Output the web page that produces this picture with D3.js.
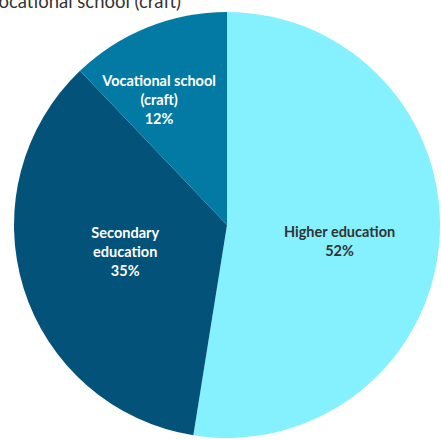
<!DOCTYPE html>
<html>
<head>
<meta charset="utf-8">
<script src="https://cdn.jsdelivr.net/npm/d3@7/dist/d3.min.js"></script>
<style>
  html, body { margin: 0; padding: 0; background: #fff; }
  svg { display: block; }
</style>
</head>
<body>
<svg id="chart" width="441" height="440"></svg>
<script>
// Education level shares
const categories = ["Higher education", "Secondary education", "Vocational school (craft)"];
const labelLines = [["Higher education"], ["Secondary", "education"], ["Vocational school", "(craft)"]];
const values = [52, 35, 12];
const colors = ["#86F1FE", "#03527A", "#027AA4"];
const textColors = ["#333333", "#ffffff", "#ffffff"];
const heading = "Vocational school (craft)";

const width = 441, height = 440;
const cx = 227, cy = 225, radius = 213;

const svg = d3.select("#chart");

// Heading, partly outside the top edge
svg.append("text")
  .attr("x", 181).attr("y", 8)
  .attr("text-anchor", "end")
  .attr("font-family", "Lato, 'Open Sans', sans-serif")
  .attr("font-size", 18.5)
  .attr("fill", "#333")
  .text(heading);

const data = categories.map((c, i) => ({ name: c, value: values[i], i }));

const pie = d3.pie().value(d => d.value).sort(null);
const arcs = pie(data);

const arc = d3.arc().innerRadius(0).outerRadius(radius);
const labelArc = d3.arc().innerRadius(radius * 0.53).outerRadius(radius * 0.53);

const g = svg.append("g").attr("transform", `translate(${cx},${cy})`);

g.selectAll("path.slice")
  .data(arcs)
  .join("path")
  .attr("class", "slice")
  .attr("d", arc)
  .attr("fill", d => colors[d.data.i]);

// Label nudges so text sits inside the wedge
const nudge = { 0: [0, 8], 1: [6, -7], 2: [-26, -20] };

const labels = g.selectAll("text.lbl")
  .data(arcs)
  .join("text")
  .attr("class", "lbl")
  .attr("text-anchor", "middle")
  .attr("font-family", "Lato, 'Open Sans', sans-serif")
  .attr("font-weight", "bold")
  .attr("font-size", 14.5)
  .attr("fill", d => textColors[d.data.i])
  .attr("transform", d => {
    const [x, y] = labelArc.centroid(d);
    const [nx, ny] = nudge[d.data.i];
    return `translate(${x + nx},${y + ny})`;
  });

labels.each(function(d) {
  const lines = labelLines[d.data.i].concat([Math.round(d.data.value) + "%"]);
  const lh = 19;
  const start = -((lines.length - 1) * lh) / 2 + 5;
  d3.select(this).selectAll("tspan")
    .data(lines)
    .join("tspan")
    .attr("x", 0)
    .attr("y", (t, k) => start + k * lh)
    .text(t => t);
});
</script>
</body>
</html>
